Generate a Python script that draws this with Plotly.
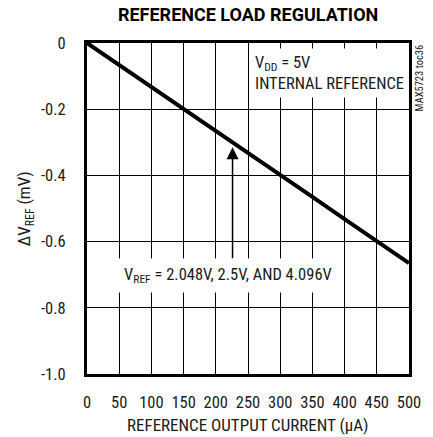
import plotly.graph_objects as go

# Load current (µA) and reference voltage change (mV)
current_ua = [0, 50, 100, 150, 200, 250, 300, 350, 400, 450, 500]
delta_vref_mv = [0, -0.066, -0.133, -0.199, -0.266, -0.332, -0.399, -0.465, -0.532, -0.598, -0.665]

x_ticks = [0, 50, 100, 150, 200, 250, 300, 350, 400, 450, 500]
y_ticks = [0, -0.2, -0.4, -0.6, -0.8, -1.0]
y_tick_text = ["0", "-0.2", "-0.4", "-0.6", "-0.8", "-1.0"]

FONT = "Roboto Condensed, Liberation Sans Narrow, Roboto, sans-serif"
INK = "#1a1a1a"

fig = go.Figure()
fig.add_trace(go.Scatter(
    x=current_ua, y=delta_vref_mv, mode="lines",
    line=dict(color="black", width=4), showlegend=False, hoverinfo="skip",
))

fig.update_layout(
    width=433, height=437,
    margin=dict(l=87, r=17, t=43, b=63),
    paper_bgcolor="white", plot_bgcolor="white",
    font=dict(family=FONT, size=16, color=INK),
    title=dict(text="<b>REFERENCE LOAD REGULATION</b>", x=0.573, xanchor="center",
               y=0.966, yanchor="middle",
               font=dict(family="Roboto, sans-serif", size=18, color="black")),
)

fig.update_xaxes(
    range=[0, 500], tickvals=x_ticks, ticks="outside", ticklen=11,
    tickcolor="rgba(0,0,0,0)", showgrid=True, gridcolor="black", gridwidth=1,
    showline=True, linecolor="black", linewidth=3, mirror=True, zeroline=False,
    tickfont=dict(size=16.5),
)
fig.update_yaxes(
    range=[-1.0, 0], tickvals=y_ticks, ticktext=y_tick_text, ticks="outside", ticklen=15,
    tickcolor="rgba(0,0,0,0)", showgrid=True, gridcolor="black", gridwidth=1,
    showline=True, linecolor="black", linewidth=3, mirror=True, zeroline=False,
    tickfont=dict(size=16.5),
)

# axis titles
fig.add_annotation(
    x=0.5, y=-0.155, xref="paper", yref="paper", xanchor="center", yanchor="middle",
    text="REFERENCE OUTPUT CURRENT (µA)", showarrow=False, font=dict(size=17),
)
fig.add_annotation(
    x=-0.19, y=0.5, xref="paper", yref="paper", xanchor="center", yanchor="middle",
    text="ΔV<sub>REF</sub> (mV)", textangle=-90, showarrow=False, font=dict(size=17),
)

# condition labels with white backing boxes over the grid
fig.add_annotation(
    x=252.5, y=-0.016, xref="x", yref="y", xanchor="left", yanchor="top",
    text="V<sub>DD</sub> = 5V<br>INTERNAL REFERENCE", showarrow=False, align="left",
    bgcolor="white", font=dict(size=16.5), borderpad=4,
)
fig.add_annotation(
    x=47, y=-0.701, xref="x", yref="y", xanchor="left", yanchor="middle",
    text="V<sub>REF</sub> = 2.048V, 2.5V, AND 4.096V", showarrow=False,
    bgcolor="white", font=dict(size=16.5), borderpad=6,
)
# arrow pointing at the load-regulation curve
fig.add_annotation(
    x=226, y=-0.315, ax=226, ay=-0.655, xref="x", yref="y", axref="x", ayref="y",
    text="", showarrow=True, arrowhead=2, arrowsize=1.6, arrowwidth=1.5, arrowcolor="black",
)
fig.add_annotation(
    x=1.033, y=0.895, xref="paper", yref="paper", xanchor="center", yanchor="middle",
    text="MAX5723 toc36", textangle=-90, showarrow=False, font=dict(size=10.5),
)

fig.write_html("out.html")
